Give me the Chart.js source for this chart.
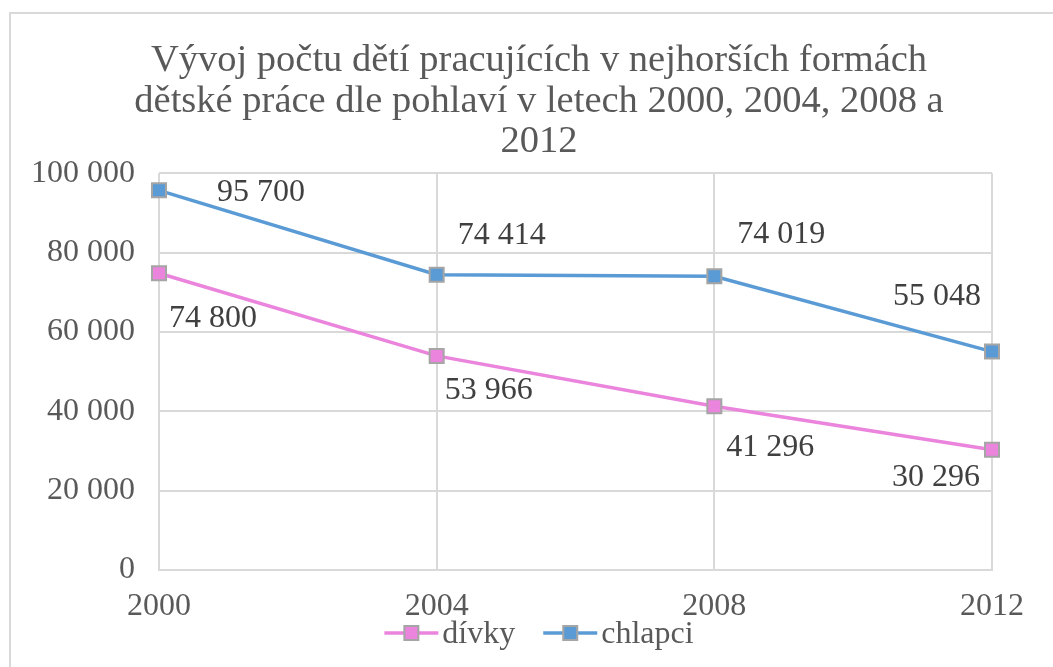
<!DOCTYPE html>
<html>
<head>
<meta charset="utf-8">
<script src="https://cdn.jsdelivr.net/npm/chart.js@4"></script>
<style>
  body { margin: 0; background: #fff; overflow: hidden; }
  #ramecek { position: absolute; left: 9px; top: 12px; width: 1100px; height: 700px; border: 2px solid #d9d9d9; }
  #obal { position: absolute; left: 0; top: 0; width: 1053px; height: 667px; }
</style>
</head>
<body>
<div id="ramecek"></div>
<div id="obal"><canvas id="graf"></canvas></div>
<script>
// data
const roky = ['2000', '2004', '2008', '2012'];
const divky = [74800, 53966, 41296, 30296];
const chlapci = [95700, 74414, 74019, 55048];
const nadpis = [
  'Vývoj počtu dětí pracujících v nejhorších formách',
  'dětské práce dle pohlaví v letech 2000, 2004, 2008 a',
  '2012'
];

// posun popisku od bodu (px)
const posunDivky = [[54, 45], [52, 35], [56, 41], [-56, 28]];
const posunChlapci = [[102, 2], [65, -39], [67, -42], [-55, -55]];

const pismo = "'Liberation Serif', serif";
const barvaDivky = '#ea84dc';
const barvaChlapci = '#5b9bd5';
const stredRamecku = 539; // stred nadpisu a legendy (ramecek je sirsi nez okno)

function cislo(v) {
  return String(v).replace(/\B(?=(\d{3})+(?!\d))/g, ' ');
}

// popisky hodnot u bodu
const popisky = {
  id: 'popisky',
  afterDatasetsDraw(chart) {
    const ctx = chart.ctx;
    const posuny = [posunDivky, posunChlapci];
    ctx.save();
    ctx.font = '32px ' + pismo;
    ctx.fillStyle = '#404040';
    ctx.textAlign = 'center';
    ctx.textBaseline = 'middle';
    chart.data.datasets.forEach((ds, i) => {
      chart.getDatasetMeta(i).data.forEach((bod, j) => {
        const p = posuny[i][j];
        ctx.fillText(cislo(ds.data[j]), bod.x + p[0], bod.y + p[1]);
      });
    });
    ctx.restore();
  }
};

// nadpis posunout na stred ramecku
const posunNadpisu = {
  id: 'posunNadpisu',
  afterLayout(chart) {
    const t = chart.titleBlock;
    if (!t) return;
    const d = stredRamecku - (t.left + t.right) / 2;
    t.left += d;
    t.right += d;
  }
};

// legenda jako v excelu: cara se ctverečkem + text
const legenda = {
  id: 'legenda',
  afterDraw(chart) {
    const ctx = chart.ctx;
    const y = 633;
    ctx.save();
    ctx.font = '32px ' + pismo;
    const polozky = chart.data.datasets.map(ds => ({
      text: ds.label,
      barva: ds.borderColor,
      sirka: 54 + 4 + ctx.measureText(ds.label).width
    }));
    const celkem = polozky.reduce((s, p) => s + p.sirka, 0) + 28 * (polozky.length - 1);
    let x = stredRamecku - celkem / 2;
    polozky.forEach(p => {
      ctx.strokeStyle = p.barva;
      ctx.lineWidth = 3.5;
      ctx.beginPath();
      ctx.moveTo(x, y);
      ctx.lineTo(x + 54, y);
      ctx.stroke();
      ctx.fillStyle = p.barva;
      ctx.fillRect(x + 20, y - 7, 14, 14);
      ctx.strokeStyle = '#a5a5a5';
      ctx.lineWidth = 2;
      ctx.strokeRect(x + 20, y - 7, 14, 14);
      ctx.fillStyle = '#595959';
      ctx.textAlign = 'left';
      ctx.textBaseline = 'alphabetic';
      ctx.fillText(p.text, x + 58, 643);
      x += p.sirka + 28;
    });
    ctx.restore();
  }
};

const ctx = document.getElementById('graf').getContext('2d');
const graf = new Chart(ctx, {
  type: 'line',
  data: {
    labels: roky,
    datasets: [{
      label: 'dívky',
      data: divky,
      borderColor: barvaDivky,
      backgroundColor: barvaDivky,
      borderWidth: 3.5,
      pointStyle: 'rect',
      pointRadius: 9.9,
      pointBorderColor: '#a5a5a5',
      pointBorderWidth: 2,
      tension: 0
    }, {
      label: 'chlapci',
      data: chlapci,
      borderColor: barvaChlapci,
      backgroundColor: barvaChlapci,
      borderWidth: 3.5,
      pointStyle: 'rect',
      pointRadius: 9.9,
      pointBorderColor: '#a5a5a5',
      pointBorderWidth: 2,
      tension: 0
    }]
  },
  options: {
    responsive: true,
    maintainAspectRatio: false,
    animation: false,
    layout: { padding: { left: 0, right: 61, top: 0, bottom: 37 } },
    plugins: {
      title: {
        display: true,
        text: nadpis,
        color: '#595959',
        font: { family: pismo, size: 38.5, weight: 'normal', lineHeight: 1.05 },
        padding: { top: 41, bottom: 11 }
      },
      legend: { display: false },
      tooltip: { enabled: false }
    },
    scales: {
      x: {
        offset: false,
        afterFit(scale) {
          scale.height = 60;
          scale.paddingLeft = 0;
          scale.paddingRight = 0;
        },
        grid: { color: '#d9d9d9', lineWidth: 2, drawTicks: false },
        border: { color: '#d9d9d9', width: 2 },
        ticks: { color: '#595959', padding: 17, font: { family: pismo, size: 32 }, maxRotation: 0 }
      },
      y: {
        min: 0,
        max: 100000,
        afterFit(scale) { scale.width = 159; },
        grid: { color: '#d9d9d9', lineWidth: 2, drawTicks: false },
        border: { display: false },
        ticks: {
          stepSize: 20000,
          color: '#595959',
          padding: 24,
          font: { family: pismo, size: 32 },
          callback: v => cislo(v)
        }
      }
    }
  },
  plugins: [popisky, posunNadpisu, legenda]
});
</script>
</body>
</html>
